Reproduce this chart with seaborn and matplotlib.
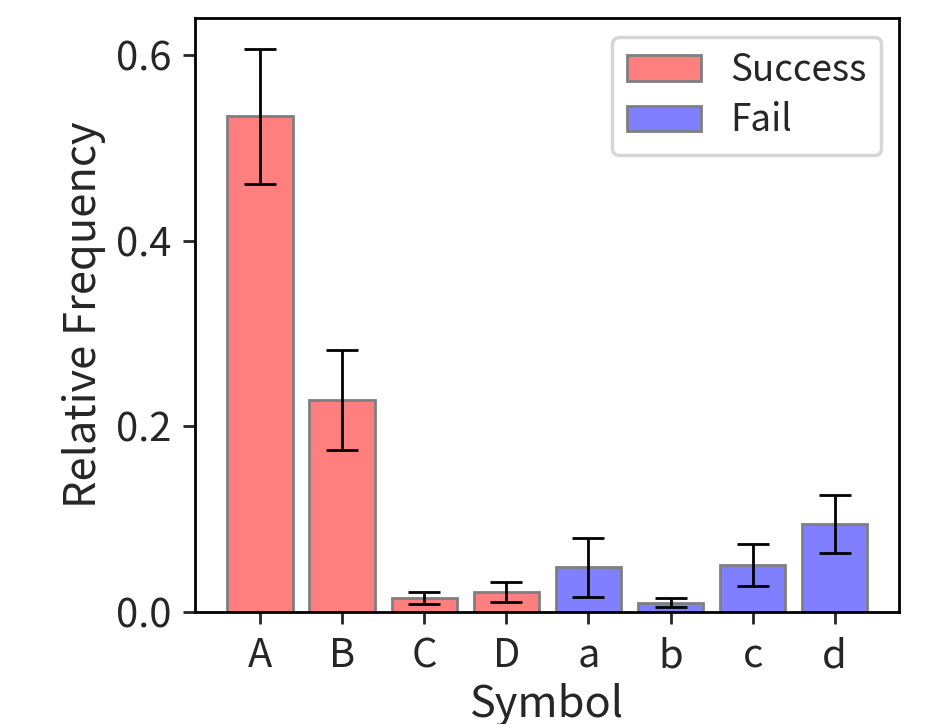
import numpy as np
import pandas as pd
import seaborn as sns
import matplotlib
matplotlib.use('Agg')
import matplotlib.pyplot as plt

# relative frequency per symbol
symbols = ['A', 'B', 'C', 'D', 'a', 'b', 'c', 'd']
outcome = ['Success'] * 4 + ['Fail'] * 4
freq = [0.534, 0.228, 0.015, 0.0215, 0.048, 0.0097, 0.0506, 0.0948]
err = [0.073, 0.054, 0.0065, 0.011, 0.032, 0.005, 0.0225, 0.031]

df = pd.DataFrame({'Symbol': symbols, 'Relative Frequency': freq, 'Outcome': outcome})

sns.set_theme(style="ticks")
plt.rcParams['font.family'] = ['Noto Sans CJK JP', 'DejaVu Sans']
plt.rcParams['xtick.direction'] = 'out'
plt.rcParams['ytick.direction'] = 'out'

fig, ax = plt.subplots(figsize=(3.74, 2.896), dpi=250)
pal = {'Success': '#ff7f7f', 'Fail': '#7f7fff'}
sns.barplot(data=df, x='Symbol', y='Relative Frequency', hue='Outcome',
            palette=pal, dodge=False, saturation=1, edgecolor='#7f7f7f',
            linewidth=0.8, width=0.8, ax=ax)
ax.errorbar(np.arange(len(symbols)), freq, yerr=err, fmt='none',
            ecolor='black', elinewidth=0.8, capsize=4.5, capthick=0.8)

ax.set_xlim(-0.79, 7.79)
ax.set_ylim(0, 0.64)
ax.set_yticks([0.0, 0.2, 0.4, 0.6])
ax.set_xlabel('Symbol', fontsize=12.5, labelpad=2)
ax.set_ylabel('Relative Frequency', fontsize=12.5, labelpad=2.9)
ax.tick_params(labelsize=11.5, width=0.8, length=3.5)
for s in ax.spines.values():
    s.set_linewidth(0.8)
    s.set_color('black')
ax.legend(title=None, loc='upper right', fontsize=10.6, frameon=True,
          edgecolor='#cccccc', fancybox=True, labelspacing=0.3)

fig.subplots_adjust(left=0.209, right=0.962, top=0.975, bottom=0.155)
fig.savefig('out.png', dpi=250)
